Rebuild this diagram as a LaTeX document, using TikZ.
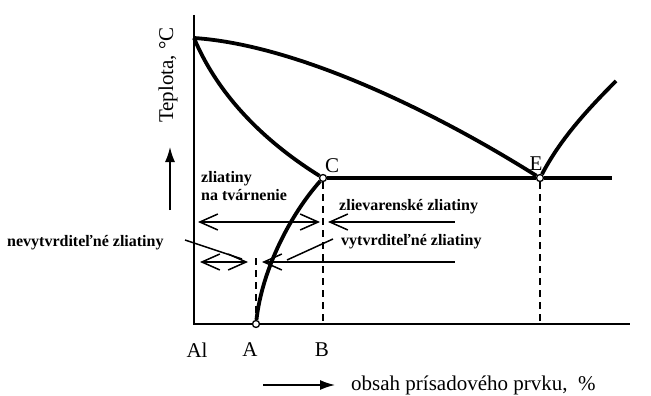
\documentclass[tikz,border=0pt]{standalone}
\usepackage{fontspec}
\setmainfont{Liberation Serif}
\usepackage{tikz}
\usetikzlibrary{arrows.meta}

\begin{document}
\begin{tikzpicture}[x=1pt, y=-1pt, every node/.style={font=\fontsize{21}{23}\selectfont, inner sep=1pt},
  curve/.style={line width=3.8pt},
  pt/.style={circle, draw, fill=white, line width=1.3pt, minimum size=7pt, inner sep=0pt},
  lbl/.style={font=\fontsize{16}{18}\selectfont\bfseries, anchor=west, align=left},
  barb/.style={line width=1.5pt, {Straight Barb[length=18pt, width=16pt]}-{Straight Barb[length=18pt, width=16pt]}},
  lbarb/.style={line width=1.5pt, {Straight Barb[length=18pt, width=16pt]}-}]
  \useasboundingbox (0,0) rectangle (651,396);
  % axes
  \draw[line width=2pt] (194,15) -- (194,324) -- (630,324);
  \node[pt] (A) at (256,324) {};
  \node[pt] (C) at (323,178) {};
  \node[pt] (E) at (540,178) {};
  \coordinate (top) at (194,38);
  \coordinate (end) at (612,178);
  \coordinate (liq) at (616,81);
  % curves
  \draw[curve] (top) .. controls (300,45) and (440,115) .. (E);
  \draw[curve] (top) .. controls (220,100) and (270,145) .. (C);
  \draw[curve] (A) .. controls (262,270) and (290,215) .. (C);
  \draw[curve] (C) -- (E) -- (end);
  \draw[curve] (E) .. controls (560,140) and (585,112) .. (liq);
  % dashed lines
  \coordinate (Bx) at (323,324);
  \coordinate (Ex) at (540,324);
  \coordinate (Ad) at (256,258);
  \draw[line width=1.5pt, dash pattern=on 7pt off 5pt] (C) -- (Bx);
  \draw[line width=1.5pt, dash pattern=on 7pt off 5pt] (E) -- (Ex);
  \draw[line width=1.5pt, dash pattern=on 7pt off 5pt] (Ad) -- (A);
  % arrows
  \draw[barb] (198,222) -- (320,222);
  \draw[lbarb] (328,222) -- (455,222);
  \draw[barb] (200,262) -- (248,262);
  \draw[lbarb] (262,262) -- (455,262);
  \draw[line width=1.5pt] (185,240) -- (242,259);
  \draw[line width=1.5pt] (333,239) -- (287,260);
  % labels
  \node[lbl] (tvar) at (200,186) {zliatiny\\na tvárnenie};
  \node[lbl] (zliev) at (338,207) {zlievarenské zliatiny};
  \node[lbl] (vytv) at (340,242) {vytvrditeľné zliatiny};
  \node[lbl] (nevytv) at (6,243) {nevytvrditeľné zliatiny};
  \node (lAl) at (197,350) {Al};
  \node (lA) at (250,350) {A};
  \node (lB) at (322,350) {B};
  \node (lC) at (332,166) {C};
  \node (lE) at (536,164) {E};
  \node[rotate=90] (temp) at (168,75) {Teplota, °C};
  \draw[line width=1.5pt, -{Latex[length=15pt, width=10pt]}] (170,210) -- (170,147);
  \draw[line width=1.5pt, -{Latex[length=15pt, width=10pt]}] (263,385) -- (335,385);
  \node[anchor=west] (obsah) at (350,385) {obsah prísadového prvku,~~\%};
\end{tikzpicture}
\end{document}
